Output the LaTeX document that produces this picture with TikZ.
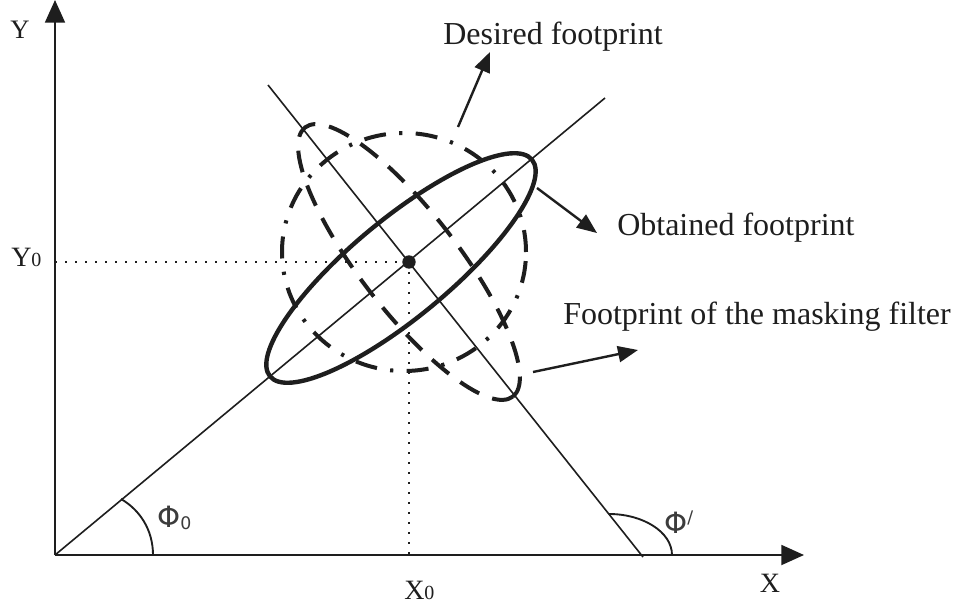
\documentclass[tikz,border=0pt]{standalone}
\usepackage{fontspec}
\setmainfont{Liberation Serif}
\newfontfamily\phifont{DejaVu Sans}
\usetikzlibrary{arrows.meta}
\definecolor{ink}{RGB}{30,30,30}
\definecolor{phigray}{RGB}{60,60,60}
\begin{document}
\begin{tikzpicture}[x=0.75pt,y=-0.75pt,
  axis/.style={line width=1.4pt,draw=ink,-{Triangle[length=17pt,width=15pt]}},
  guide/.style={line width=1.2pt,draw=ink},
  dotline/.style={line width=1.8pt,draw=ink,dash pattern=on 1.8pt off 5.7pt},
  obtained/.style={line width=3.3pt,draw=ink},
  masking/.style={line width=3pt,draw=ink,dash pattern=on 16.5pt off 10.5pt},
  desired/.style={line width=3pt,draw=ink,dash pattern=on 16.5pt off 10pt on 2.4pt off 10pt},
  callout/.style={line width=1.8pt,draw=ink,-{Triangle[length=15pt,width=12pt]}},
  arcline/.style={line width=1.4pt,draw=ink},
  lbl/.style={inner sep=0pt,text=ink,font=\fontsize{24}{28}\selectfont},
  axlbl/.style={inner sep=0pt,text=ink},
  philbl/.style={inner sep=0pt,text=phigray}]
\useasboundingbox (0,0) rectangle (961,606);
\fill[white] (0,0) rectangle (961,606);

% key points
\coordinate (O) at (55,555);
\coordinate (ytip) at (55,0);
\coordinate (xtip) at (804,555);
\coordinate (C) at (409,262);
\coordinate (l1end) at (605,98);
\coordinate (l2top) at (268,85);
\coordinate (l2bot) at (643,557);
\coordinate (yfoot) at (55,262);
\coordinate (xfoot) at (409,560);

% dotted guides
\draw[dotline] (yfoot) -- (C);
\draw[dotline] (C) -- (xfoot);

% axes
\draw[axis] (O) -- (ytip);
\draw[axis] (O) -- (xtip);

% lines
\draw[guide] (O) -- (l1end);
\draw[guide] (l2top) -- (l2bot);

% footprints
\coordinate (E1) at (401,268);
\draw[obtained,rotate around={39.6:(E1)}] (E1) ellipse [x radius=127.5pt,y radius=36.75pt];
\draw[masking,rotate around={-52.35:(C)}] (C) ellipse [x radius=127.5pt,y radius=36.75pt];
\coordinate (E3) at (404,252);
\draw[desired] (E3) ellipse [x radius=91.5pt,y radius=89.25pt];

% centre point
\fill[ink] (C) circle [radius=5pt];

% angle arcs
\coordinate (a0s) at (121,499);
\coordinate (a0e) at (153,555);
\draw[arcline] (a0s) .. controls (140,510) and (153,530) .. (a0e);
\coordinate (a1s) at (609,514);
\coordinate (a1e) at (672,555);
\draw[arcline] (a1s) .. controls (643,514) and (672,532) .. (a1e);

% labels
\node[axlbl,font=\fontsize{20}{22}\selectfont] (ylab) at (20,30) {Y};
\node[axlbl,font=\fontsize{21}{24}\selectfont] (xlab) at (770,583) {X};
\node[axlbl,font=\fontsize{21}{24}\selectfont,anchor=base west] (y0lab) at (11,267) {Y{\fontsize{15}{16}\selectfont 0}};
\node[axlbl,font=\fontsize{21}{24}\selectfont,anchor=base west] (x0lab) at (404,599) {X{\fontsize{15}{16}\selectfont 0}};

\node[philbl,anchor=base west] (phi0) at (157,527) {\phifont\fontsize{22}{24}\selectfont Φ\raisebox{-1.5pt}{\fontsize{13}{14}\selectfont 0}};
\node[philbl,anchor=base west] (phi1) at (664,533) {\phifont\fontsize{22}{24}\selectfont Φ\raisebox{7pt}{\fontsize{13}{14}\selectfont /}};

\node[lbl,anchor=base west] (desired) at (443,45) {Desired footprint};
\node[lbl,anchor=base west] (obtained) at (617,236) {Obtained footprint};
\node[lbl,anchor=base west] (masking) at (563,325) {Footprint of the masking filter};

% callout arrows
\coordinate (d0) at (458,127);
\coordinate (d1) at (490,52);
\draw[callout] (d0) -- (d1);
\coordinate (o0) at (537,188);
\coordinate (o1) at (597,233);
\draw[callout] (o0) -- (o1);
\coordinate (m0) at (533,372);
\coordinate (m1) at (638,350);
\draw[callout] (m0) -- (m1);
\end{tikzpicture}
\end{document}
